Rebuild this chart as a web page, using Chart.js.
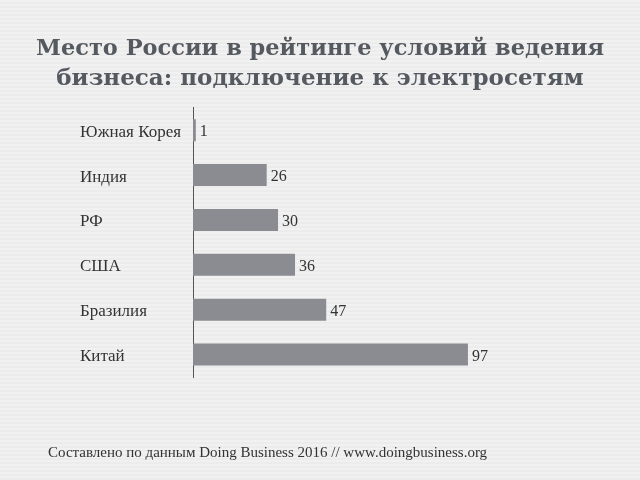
<!DOCTYPE html>
<html>
<head>
<meta charset="utf-8">
<script src="https://cdn.jsdelivr.net/npm/chart.js@4"></script>
<style>
  html, body { margin: 0; padding: 0; }
  body { background: repeating-linear-gradient(#f1f1f1 0 2px, #ececec 2px 4px); }
  #wrap { position: relative; width: 640px; height: 480px; }
  #source {
    position: absolute; left: 48px; top: 444px;
    font: 15px 'Liberation Serif', serif; color: #333; white-space: nowrap;
  }
</style>
</head>
<body>
<div id="wrap">
  <canvas id="rankChart" width="640" height="480"></canvas>
  <div id="source">Составлено по данным Doing Business 2016 // www.doingbusiness.org</div>
</div>
<script>
// data
var countries = ['Южная Корея', 'Индия', 'РФ', 'США', 'Бразилия', 'Китай'];
var ranks = [1, 26, 30, 36, 47, 97];

var serif = "'Liberation Serif', serif";

// value labels at the end of each bar
var valueLabels = {
  id: 'valueLabels',
  afterDatasetsDraw: function (chart) {
    var ctx = chart.ctx;
    var meta = chart.getDatasetMeta(0);
    ctx.save();
    ctx.font = '16px ' + serif;
    ctx.fillStyle = '#333';
    ctx.textBaseline = 'middle';
    meta.data.forEach(function (bar, i) {
      ctx.fillText(ranks[i], bar.x + 4, bar.y + 2);
    });
    ctx.restore();
  }
};

var ctx = document.getElementById('rankChart').getContext('2d');
var rankChart = new Chart(ctx, {
  type: 'bar',
  data: {
    labels: countries,
    datasets: [{
      data: ranks,
      xAxisID: 'x',
      yAxisID: 'y',
      backgroundColor: '#8a8c91',
      borderWidth: 0,
      barPercentage: 0.98,
      categoryPercentage: 0.5
    }]
  },
  options: {
    indexAxis: 'y',
    responsive: false,
    animation: false,
    layout: { padding: { left: 36, right: 36, top: 0, bottom: 103 } },
    plugins: {
      legend: { display: false },
      tooltip: { enabled: false },
      title: {
        display: true,
        text: ['Место России в рейтинге условий ведения', 'бизнеса: подключение к электросетям'],
        color: '#555960',
        font: { family: "'DejaVu Serif', serif", size: 23, weight: 'bold', lineHeight: 1.3 },
        padding: { top: 34, bottom: 14 }
      }
    },
    scales: {
      x: {
        display: false,
        min: 0,
        max: 145
      },
      // empty spacer on the far left so the labels start further in
      spacer: {
        axis: 'y',
        type: 'linear',
        position: 'left',
        weight: 5,
        grid: { display: false },
        border: { display: false },
        ticks: { display: false },
        afterFit: function (s) { s.width = 44; }
      },
      y: {
        type: 'category',
        position: 'left',
        weight: 0,
        grid: { display: false },
        border: { display: true, color: '#555', width: 1 },
        ticks: {
          color: '#333',
          crossAlign: 'far',
          padding: 4,
          labelOffset: 2,
          font: { family: serif, size: 17 }
        },
        afterFit: function (s) { s.width = 113; }
      }
    }
  },
  plugins: [valueLabels]
});
</script>
</body>
</html>
